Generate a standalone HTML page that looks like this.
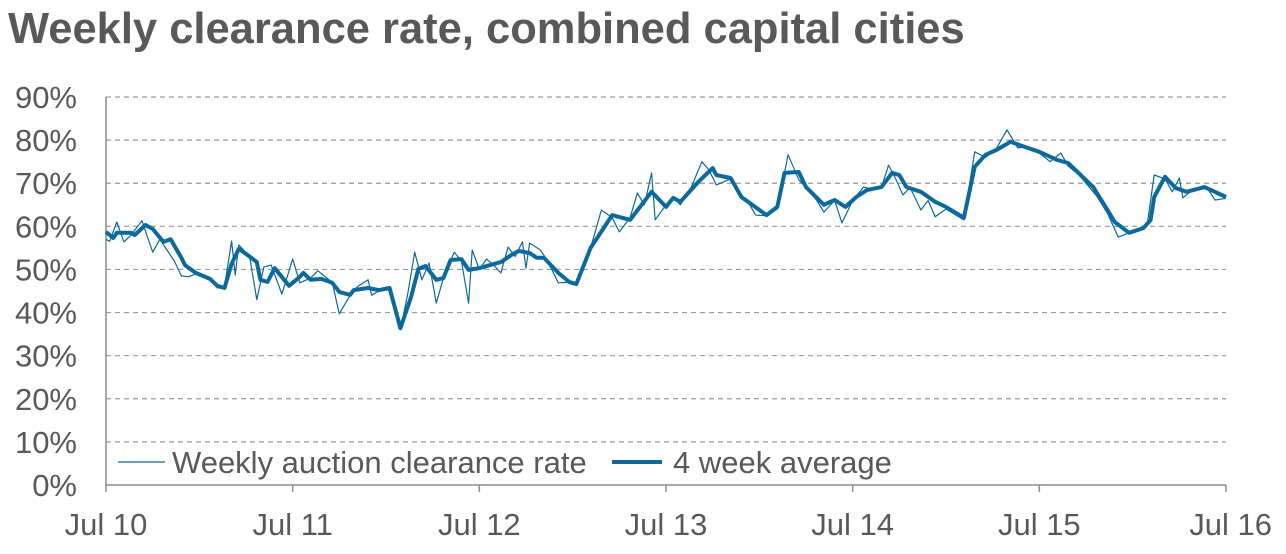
<!DOCTYPE html>
<html><head><meta charset="utf-8"><style>
body{margin:0;background:#fff;}
svg text{font-family:"Liberation Sans",Arial,sans-serif;fill:#595959;}
</style></head><body>
<svg width="1286" height="549" viewBox="0 0 1286 549">
<text x="8" y="43" font-size="43.5" font-weight="bold">Weekly clearance rate, combined capital cities</text>
<g id="grid"></g><g id="axes"></g><g id="series"></g>
<g>
<line x1="118" y1="462" x2="165" y2="462" stroke="#0b6a9b" stroke-width="1.3"/>
<text x="172" y="473" font-size="31">Weekly auction clearance rate</text>
<line x1="612" y1="462" x2="662" y2="462" stroke="#0b6a9b" stroke-width="4"/>
<text x="673" y="473" font-size="31">4 week average</text>
</g>
</svg>
<script>
const yTicks=[0,10,20,30,40,50,60,70,80,90];
const xTickLabels=["Jul 10","Jul 11","Jul 12","Jul 13","Jul 14","Jul 15","Jul 16"];
const xTickWeeks=[0,52,104,156,208,260,312];
const weeklyWeeks=[0,1,3,5,7,10,13,15,17,19,21,23,25,29,31,33,35,36,37,40,42,44,46,49,52,54,57,59,63,65,68,70,73,74,76,79,82,84,86,88,90,92,94,97,99,101,102,104,106,108,110,112,114,116,117,118,121,123,126,129,131,135,138,141,143,146,148,150,152,153,156,158,160,163,166,168,170,174,177,179,181,184,187,190,193,195,198,200,203,205,208,211,214,216,218,220,222,224,227,229,231,234,237,239,242,245,248,251,254,257,260,263,266,268,271,273,276,279,282,285,288,290,292,295,297,299,300,302,305,307,309,312];
const weeklyValues=[57,56.5,61,56.4,58,61.3,54,57,54.5,52,48.5,48.3,49,47.5,45.7,46,56.6,48.7,55.7,53,43,50.6,51,44.3,52.4,46.9,48,49.7,47,39.7,44,46,47.6,44,45,45.5,36,44,54,47.6,51.5,42.2,48,54,52,42.2,54.5,50,52.4,51,49.2,55.2,53,56.4,50.3,56.1,54.5,52,46.9,47,46.4,55,63.8,62,58.7,62,67.7,65,72.4,61.5,65,66.8,65,69,75,73,69.6,71,66.5,65.4,62.6,62.5,64,76.6,70.8,69,66,63.3,66,60.8,66,69.1,68.5,69,74.2,71,67.3,69,63.8,66,62.2,64,62.5,61.5,77.3,76,78,82.4,78.2,78.5,77,75,77,74,72,70,67,63,57.5,58.5,59.5,60,71.9,71,68,71.2,66.6,68,69,68.5,66.1,66.5];
const avgWeeks=[0,2,3,7,8,11,13,16,18,21,22,25,29,31,33,35,37,40,42,43,45,47,51,54,55,57,60,63,65,68,69,73,76,79,82,85,87,89,92,94,96,99,101,104,107,110,113,115,118,120,122,126,129,131,135,141,146,152,156,158,160,165,169,170,174,177,184,187,189,193,195,200,203,206,209,212,216,219,221,223,227,231,234,239,242,245,248,252,256,260,265,268,275,279,281,285,289,291,292,295,298,301,306,312];
const avgValues=[58.7,57.3,58.5,58.5,58,60.3,59.4,56.4,57,52.7,51,49.2,47.8,46.2,45.7,51.3,54.8,53,51.7,47.6,47.1,50.3,46.2,48.3,49.2,47.6,47.8,46.9,44.8,44.1,45.2,45.7,45.2,45.7,36.4,43.6,50.1,50.8,47.6,48,52.2,52.4,49.9,50.3,51,51.7,53.4,54.3,53.8,52.7,52.7,49.2,47.1,46.6,55,62.6,61.5,68,64.5,66.6,65.7,70.3,73.5,71.9,71.2,66.8,62.6,64.5,72.4,72.6,69.1,65,66.1,64.5,66.8,68.4,69.1,72.4,71.9,69.1,68,65.7,64.5,62,73.8,76.6,77.7,79.6,78.4,77.3,75.4,74.7,69.1,63.8,61,58.5,59.6,61.5,66.8,71.5,68.9,68,69.1,66.8];

const NS="http://www.w3.org/2000/svg";
const X0=106,X1=1226,Y0=485,Y90=97;
const xs=w=>X0+(X1-X0)*w/312;
const ys=v=>Y0-(Y0-Y90)*v/90;
function mk(tag,attrs,parent){const e=document.createElementNS(NS,tag);for(const k in attrs)e.setAttribute(k,attrs[k]);parent.appendChild(e);return e;}
const grid=document.getElementById('grid'),axes=document.getElementById('axes'),series=document.getElementById('series');
yTicks.forEach(v=>{
  if(v>0){const g=mk('line',{x1:X0,x2:X1,y1:ys(v),y2:ys(v),stroke:'#9a9a9a','stroke-width':1.2,'stroke-dasharray':'5,4'},grid);
  
  }
  const t=mk('text',{x:77,y:ys(v)+11,'font-size':31,'text-anchor':'end'},axes);t.textContent=v+'%';
  
  
});
const ya=mk('line',{x1:X0,x2:X0,y1:Y90,y2:Y0,stroke:'#8c8c8c','stroke-width':1.5},axes);


const xa=mk('line',{x1:X0,x2:X1,y1:Y0,y2:Y0,stroke:'#8c8c8c','stroke-width':1.5},axes);


xTickWeeks.forEach((w,i)=>{
  const tk=mk('line',{x1:xs(w),x2:xs(w),y1:Y0,y2:Y0+7,stroke:'#8c8c8c','stroke-width':1.5},axes);
  
  
  let anchor='middle',x=xs(w);
  if(i===xTickLabels.length-1){anchor='end';x=xs(w)+46;}
  const t=mk('text',{x:x,y:535,'font-size':31,'text-anchor':anchor},axes);t.textContent=xTickLabels[i];
  
  
});
const pts=(ws,vs)=>ws.map((w,i)=>xs(w).toFixed(1)+','+ys(vs[i]).toFixed(1)).join(' ');
const wl=mk('polyline',{points:pts(weeklyWeeks,weeklyValues),fill:'none',stroke:'#0b6a9b','stroke-width':1.2,'stroke-linejoin':'round'},series);


const al=mk('polyline',{points:pts(avgWeeks,avgValues),fill:'none',stroke:'#0b6a9b','stroke-width':4,'stroke-linejoin':'round'},series);


</script>
</body></html>
